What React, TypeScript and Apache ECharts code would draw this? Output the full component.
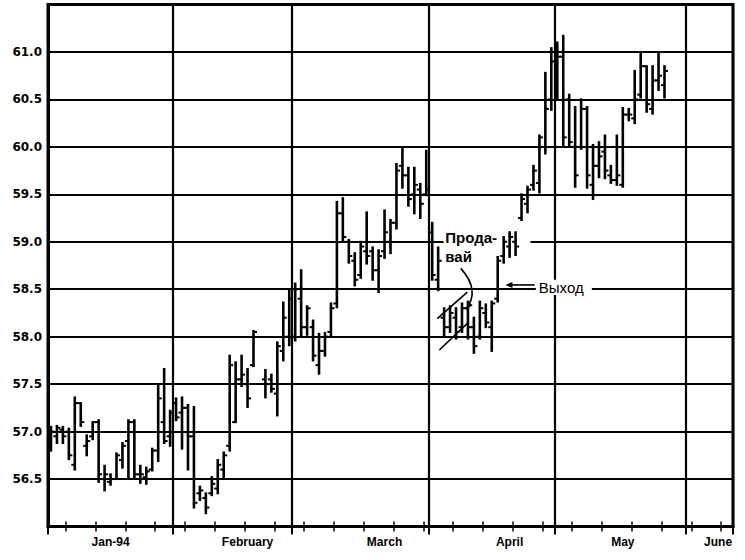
import React, { useEffect, useRef } from "react";
import * as echarts from "echarts";

// ---- axis structure: weekday slots from Mon 3 Jan 1994 to Fri 10 Jun 1994 ----
const firstDay = "1994-01-03";
const slotCount = 115;
const monthStartIdx = [21, 41, 64, 85, 107];
const monthLabelIdx = [10, 33, 56, 77, 96, 112];
const monthLabels = ["Jan-94", "February", "March", "April", "May", "June"];
const weekTickIdx = [3, 8, 13, 18, 23, 28, 33, 38, 43, 48, 53, 58, 63, 68, 73, 78, 83, 88, 93, 98, 103, 108, 113];

// ---- price bars (open / high / low / close), one per weekday slot ----
const opens = [
  56.80, 56.95, 57.02, 57.00, 56.65, 57.30, 56.85, 56.95, 57.10, 56.50,
  56.47, 56.50, 56.70, 56.90, 57.10, 56.55, 56.52, 56.60, 56.80, 57.10,
  56.95, 57.30, 57.20, 57.25, 56.95, 56.35, 56.30, 56.35, 56.40, 56.60,
  56.85, 57.10, 57.55, 57.50, 57.70, null, 57.55, 57.55, 57.40, 57.85,
  58.00, 58.00, 58.40, 58.10, 58.10, 57.70, 57.85, 58.05, 58.35, 59.30,
  59.00, 58.80, 58.65, 58.90, 58.90, 58.70, 58.90, 59.00, 59.20, 59.80,
  59.70, 59.50, 59.55, 59.50, 59.10, 58.60, 58.20, 58.10, 58.20, 58.10,
  58.30, 58.10, 58.00, 58.25, 58.10, 58.40, 58.85, 58.95, 59.00, 59.25,
  59.40, 59.60, 59.62, 60.00, 60.50, 60.90, 60.95, 60.50, 60.00, 60.00,
  60.40, 59.60, 59.80, 59.95, 59.70, 59.65, 59.60, 60.34, 60.30, 60.55,
  60.85, 60.40, 60.70, 60.65,
];
const highs = [
  57.05, 57.06, 57.05, 57.03, 57.36, 57.30, 56.96, 57.10, 57.12, 56.64,
  56.55, 56.77, 56.88, 57.12, 57.12, 56.64, 56.62, 56.82, 57.48, 57.66,
  57.22, 57.35, 57.36, 57.28, 57.26, 56.42, 56.35, 56.52, 56.70, 56.78,
  57.80, 57.73, 57.80, 57.66, 58.06, null, 57.65, 57.60, 57.94, 58.36,
  58.49, 58.56, 58.70, 58.32, 58.17, 58.03, 58.04, 58.35, 59.42, 59.46,
  59.02, 58.88, 59.00, 59.31, 58.94, 58.91, 59.33, 59.23, 59.82, 59.98,
  59.78, 59.78, 59.61, 59.96, 59.20, 58.94, 58.30, 58.32, 58.30, 58.35,
  58.37, 58.20, 58.37, 58.34, 58.37, 58.84, 59.05, 59.10, 59.10, 59.50,
  59.58, 59.80, 60.12, 60.78, 61.04, 61.10, 61.17, 60.55, 60.42, 60.50,
  60.42, 60.02, 60.05, 60.12, 59.80, 60.12, 60.41, 60.40, 60.80, 60.98,
  60.85, 60.85, 60.98, 60.85,
];
const lows = [
  56.80, 56.88, 56.88, 56.71, 56.60, 57.06, 56.75, 56.92, 56.47, 56.38,
  56.44, 56.50, 56.62, 56.50, 56.50, 56.46, 56.45, 56.59, 56.69, 56.88,
  56.85, 57.12, 56.82, 56.60, 56.20, 56.28, 56.14, 56.33, 56.35, 56.50,
  56.80, 57.10, 57.48, 57.26, 57.69, null, 57.36, 57.42, 57.17, 57.75,
  57.91, 57.96, 58.00, 58.02, 57.75, 57.61, 57.80, 58.00, 58.31, 59.00,
  58.78, 58.54, 58.62, 58.77, 58.60, 58.47, 58.83, 58.88, 59.14, 59.57,
  59.38, 59.30, 59.25, 59.49, 58.60, 58.49, 58.00, 58.05, 57.98, 58.05,
  57.98, 57.83, 57.98, 58.10, 57.85, 58.37, 58.78, 58.84, 58.86, 59.23,
  59.31, 59.55, 59.52, 59.93, 60.39, 60.50, 60.00, 60.00, 59.58, 59.98,
  59.57, 59.45, 59.68, 59.67, 59.62, 59.60, 59.58, 60.28, 60.25, 60.52,
  60.37, 60.35, 60.60, 60.52,
];
const closes = [
  57.00, 57.04, 56.95, 56.75, 57.30, 57.10, 56.90, 57.10, 56.55, 56.55,
  56.50, 56.75, 56.85, 57.10, 56.55, 56.55, 56.58, 56.80, 57.35, 56.90,
  57.20, 57.15, 57.25, 56.95, 56.25, 56.38, 56.20, 56.45, 56.65, 56.75,
  57.70, 57.55, 57.60, 57.35, 58.05, null, 57.50, 57.45, 57.90, 58.20,
  58.40, 58.50, 58.10, 58.30, 57.80, 57.85, 58.00, 58.30, 59.30, 59.05,
  58.85, 58.60, 58.95, 58.85, 58.70, 58.85, 59.10, 59.20, 59.75, 59.70,
  59.45, 59.60, 59.40, 59.55, 58.65, 58.80, 58.10, 58.25, 58.05, 58.30,
  58.10, 57.90, 58.30, 58.15, 58.35, 58.80, 59.00, 59.05, 58.95, 59.45,
  59.55, 59.75, 60.10, 60.40, 60.90, 60.95, 60.10, 60.05, 59.70, 60.40,
  59.70, 59.80, 59.90, 59.75, 59.65, 59.70, 60.34, 60.34, 60.50, 60.85,
  60.45, 60.70, 60.75, 60.80,
];

// ---- annotations, anchored in (slot, price) space ----
const sellText = ["Прода-", "вай"];
const sellAnchors: [number, number][] = [[66.2, 59.05], [66.2, 58.85]];
const exitText = "Выход";
const exitAnchor: [number, number] = [81.9, 58.52];
const exitArrow: [number, number][] = [[81.2, 58.545], [76.3, 58.545]];
const channelUpper: [number, number][] = [[64.85, 58.19], [69.9, 58.47]];
const channelLower: [number, number][] = [[65.2, 57.86], [69.9, 58.14]];
const curveArrow: [number, number][] = [[68.8, 58.72], [72.1, 58.49], [69.7, 58.29]];
const sellMask: [number, number][] = [[65.9, 59.14], [80.5, 58.79]];
const exitMask: [number, number][] = [[81.4, 58.60], [90.8, 58.44]];

function weekdaySlots(start: string, n: number): string[] {
  const out: string[] = [];
  const d = new Date(start + "T00:00:00Z");
  while (out.length < n) {
    const wd = d.getUTCDay();
    if (wd !== 0 && wd !== 6) out.push(d.toISOString().slice(0, 10));
    d.setUTCDate(d.getUTCDate() + 1);
  }
  return out;
}

export default function App() {
  const ref = useRef<HTMLDivElement>(null);

  useEffect(() => {
    document.body.style.margin = "0";
    if (!ref.current) return;
    const chart = echarts.init(ref.current, null, { renderer: "svg" });
    const days = weekdaySlots(firstDay, slotCount);
    const bars: number[][] = [];
    opens.forEach((o, i) => {
      if (o == null || highs[i] == null) return;
      bars.push([i, o as number, highs[i] as number, lows[i] as number, closes[i] as number]);
    });

    const hiddenCat = {
      type: "category",
      data: days,
      boundaryGap: true,
      position: "bottom",
      axisLine: { show: false },
      axisLabel: { show: false },
      splitLine: { show: false },
    };

    chart.setOption({
      animation: false,
      backgroundColor: "#fff",
      grid: {
        left: 48,
        right: 12,
        top: 4.5,
        bottom: 33.5,
        show: true,
        borderColor: "#000",
        borderWidth: 3,
        backgroundColor: "transparent",
        containLabel: false,
      },
      xAxis: [
        {
          type: "category",
          data: days,
          boundaryGap: true,
          axisLine: { show: true, lineStyle: { color: "#000", width: 3 } },
          axisTick: {
            show: true,
            interval: (i: number) => weekTickIdx.includes(i),
            length: 5,
            lineStyle: { color: "#000", width: 1.5 },
          },
          splitLine: {
            show: true,
            interval: (i: number) => monthStartIdx.includes(i),
            lineStyle: { color: "#000", width: 2.2 },
          },
          axisLabel: {
            show: true,
            interval: (i: number) => monthLabelIdx.includes(i),
            formatter: (_v: string, i: number) => {
              const k = monthLabelIdx.indexOf(i);
              return k >= 0 ? monthLabels[k] : "";
            },
            margin: 9,
            color: "#000",
            fontFamily: "Liberation Sans",
            fontWeight: "bold",
            fontSize: 12,
            hideOverlap: false,
          },
        },
        {
          ...hiddenCat,
          axisTick: {
            show: true,
            interval: (i: number) => i === 0 || monthStartIdx.includes(i),
            length: 8,
            lineStyle: { color: "#000", width: 2 },
          },
        },
        {
          ...hiddenCat,
          axisTick: {
            show: true,
            inside: true,
            interval: (i: number) => weekTickIdx.includes(i),
            length: 5,
            lineStyle: { color: "#000", width: 1.5 },
          },
        },
      ],
      yAxis: {
        type: "value",
        min: 56,
        max: 61.5,
        interval: 0.5,
        axisLine: { show: true, lineStyle: { color: "#000", width: 3 } },
        axisTick: { show: false },
        splitLine: { show: true, lineStyle: { color: "#000", width: 2.2 } },
        axisLabel: {
          showMinLabel: false,
          showMaxLabel: false,
          formatter: (v: number) => v.toFixed(1),
          margin: 6,
          color: "#000",
          fontFamily: "DejaVu Sans",
          fontWeight: "bold",
          fontSize: 12,
        },
      },
      series: [
        {
          type: "custom",
          z: 5,
          data: bars,
          encode: { x: 0, y: [2, 3] },
          renderItem: (_params: any, api: any) => {
            const i = api.value(0);
            const top = api.coord([i, api.value(2)]);
            const bot = api.coord([i, api.value(3)]);
            const po = api.coord([i, api.value(1)]);
            const pc = api.coord([i, api.value(4)]);
            const t = 3.5;
            const st = { stroke: "#000", lineWidth: 2.6 };
            return {
              type: "group",
              children: [
                { type: "line", shape: { x1: top[0], y1: top[1] - 1, x2: bot[0], y2: bot[1] + 1 }, style: st },
                { type: "line", shape: { x1: po[0] - t, y1: po[1], x2: po[0], y2: po[1] }, style: { stroke: "#000", lineWidth: 2 } },
                { type: "line", shape: { x1: pc[0], y1: pc[1], x2: pc[0] + t, y2: pc[1] }, style: { stroke: "#000", lineWidth: 2 } },
              ],
            };
          },
        },
      ],
    });

    const toPx = (p: [number, number]): number[] => {
      const i0 = Math.floor(p[0]);
      const a = chart.convertToPixel({ xAxisIndex: 0, yAxisIndex: 0 }, [i0, p[1]]) as number[];
      const b = chart.convertToPixel({ xAxisIndex: 0, yAxisIndex: 0 }, [i0 + 1, p[1]]) as number[];
      return [a[0] + (b[0] - a[0]) * (p[0] - i0), a[1]];
    };

    const arrowHead = (tip: number[], from: number[], len: number, half: number) => {
      const dx = tip[0] - from[0];
      const dy = tip[1] - from[1];
      const d = Math.hypot(dx, dy) || 1;
      const ux = dx / d, uy = dy / d;
      const bx = tip[0] - ux * len, by = tip[1] - uy * len;
      return [tip, [bx - uy * half, by + ux * half], [bx + uy * half, by - ux * half]];
    };

    const sm0 = toPx(sellMask[0]), sm1 = toPx(sellMask[1]);
    const em0 = toPx(exitMask[0]), em1 = toPx(exitMask[1]);
    const cu0 = toPx(channelUpper[0]), cu1 = toPx(channelUpper[1]);
    const cl0 = toPx(channelLower[0]), cl1 = toPx(channelLower[1]);
    const ca = curveArrow.map(toPx);
    const ea0 = toPx(exitArrow[0]), ea1 = toPx(exitArrow[1]);
    const s0 = toPx(sellAnchors[0]), s1 = toPx(sellAnchors[1]);
    const ex = toPx(exitAnchor);

    chart.setOption({
      graphic: [
        { type: "rect", z: 1, shape: { x: sm0[0], y: sm0[1], width: sm1[0] - sm0[0], height: sm1[1] - sm0[1] }, style: { fill: "#fff" } },
        { type: "rect", z: 1, shape: { x: em0[0], y: em0[1], width: em1[0] - em0[0], height: em1[1] - em0[1] }, style: { fill: "#fff" } },
        { type: "line", z: 10, shape: { x1: cu0[0], y1: cu0[1], x2: cu1[0], y2: cu1[1] }, style: { stroke: "#000", lineWidth: 1.6 } },
        { type: "line", z: 10, shape: { x1: cl0[0], y1: cl0[1], x2: cl1[0], y2: cl1[1] }, style: { stroke: "#000", lineWidth: 1.6 } },
        {
          type: "bezierCurve",
          z: 10,
          shape: { x1: ca[0][0], y1: ca[0][1], cpx1: ca[1][0], cpy1: ca[1][1], x2: ca[2][0], y2: ca[2][1] },
          style: { stroke: "#000", lineWidth: 1.6, fill: null },
        },
        { type: "polygon", z: 10, shape: { points: arrowHead(ca[2], ca[1], 7, 3) }, style: { fill: "#000" } },
        { type: "line", z: 10, shape: { x1: ea0[0], y1: ea0[1], x2: ea1[0] + 5, y2: ea1[1] }, style: { stroke: "#000", lineWidth: 1.6 } },
        { type: "polygon", z: 10, shape: { points: arrowHead(ea1, ea0, 7, 3) }, style: { fill: "#000" } },
        {
          type: "text", z: 11, x: s0[0], y: s0[1],
          style: { text: sellText[0], fill: "#000", font: "bold 15px 'Liberation Sans'", textVerticalAlign: "middle", textAlign: "left" },
        },
        {
          type: "text", z: 11, x: s1[0], y: s1[1],
          style: { text: sellText[1], fill: "#000", font: "bold 15px 'Liberation Sans'", textVerticalAlign: "middle", textAlign: "left" },
        },
        {
          type: "text", z: 11, x: ex[0], y: ex[1],
          style: { text: exitText, fill: "#000", font: "15px 'Liberation Sans'", textVerticalAlign: "middle", textAlign: "left" },
        },
      ],
    });

    return () => chart.dispose();
  }, []);

  return <div ref={ref} style={{ width: 745, height: 560 }} />;
}
